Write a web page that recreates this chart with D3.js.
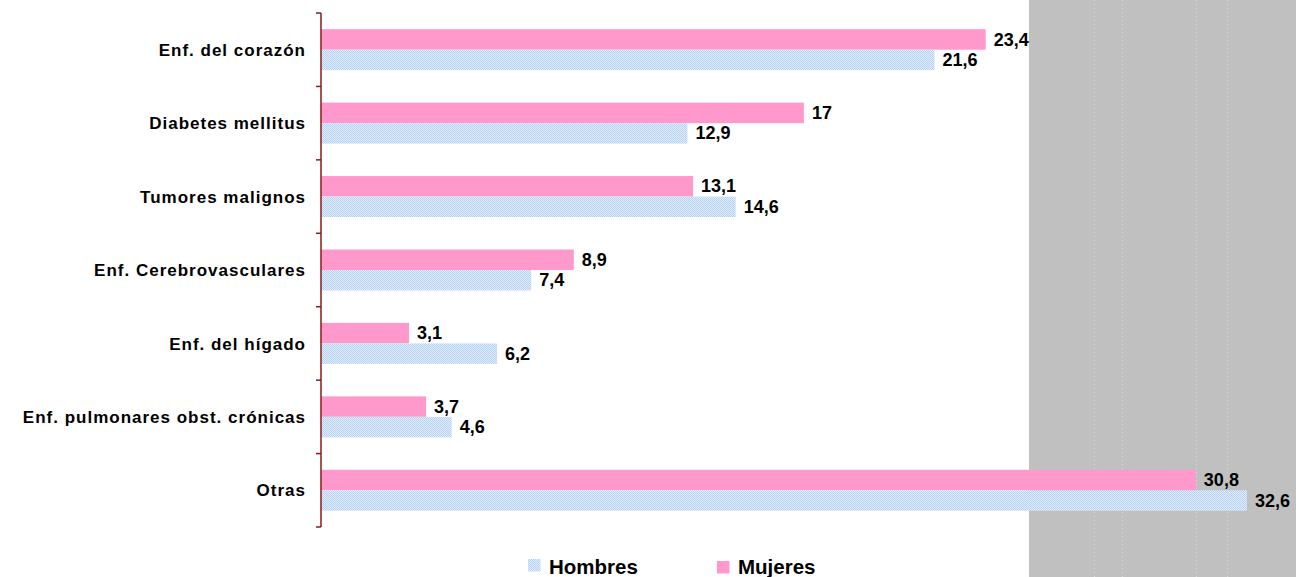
<!DOCTYPE html>
<html><head><meta charset="utf-8">
<script src="https://cdn.jsdelivr.net/npm/d3@7"></script>
<style>body{margin:0;background:#fff}svg{display:block}text{font-family:"Liberation Sans",Arial,sans-serif;font-weight:bold}</style>
</head><body>
<script>
const categories = ["Enf. del corazón","Diabetes mellitus","Tumores malignos","Enf. Cerebrovasculares","Enf. del hígado","Enf. pulmonares obst. crónicas","Otras"];
const mujeres = [23.4,17,13.1,8.9,3.1,3.7,30.8];
const hombres = [21.6,12.9,14.6,7.4,6.2,4.6,32.6];
const mujeresLabels = ["23,4","17","13,1","8,9","3,1","3,7","30,8"];
const hombresLabels = ["21,6","12,9","14,6","7,4","6,2","4,6","32,6"];
const seriesNames = ["Hombres","Mujeres"];
const gridValues = [27.2,28.2,30.8,31.9];

const W=1296,H=577;
const svg=d3.select("body").append("svg").attr("width",W).attr("height",H);
const defs=svg.append("defs");
const pat=defs.append("pattern").attr("id","chk").attr("width",2).attr("height",2).attr("patternUnits","userSpaceOnUse");
pat.append("rect").attr("width",2).attr("height",2).attr("fill","#E2EDFB");
pat.append("rect").attr("width",1).attr("height",1).attr("fill","#B5D2F6");
pat.append("rect").attr("x",1).attr("y",1).attr("width",1).attr("height",1).attr("fill","#B5D2F6");

const x0=321;
const x=d3.scaleLinear().domain([0,32.6]).range([x0,1247]);
const y=d3.scaleBand().domain(categories).range([13,527]);

// gray area
svg.append("rect").attr("x",1029).attr("y",0).attr("width",W-1029).attr("height",H).attr("fill","#C0C0C0");
svg.selectAll("line.grid").data(gridValues).enter().append("line")
  .attr("x1",d=>Math.round(x(d))+0.5).attr("x2",d=>Math.round(x(d))+0.5).attr("y1",0).attr("y2",H)
  .attr("stroke","#D8D8D8").attr("stroke-width",1).attr("stroke-dasharray","1,3");

const g=svg.append("g");
const barH=20.5, off=16.2;
categories.forEach((c,i)=>{
  const yb=y(c);
  g.append("rect").attr("x",x0).attr("y",yb+off).attr("width",x(mujeres[i])-x0).attr("height",barH).attr("fill","#FF99CC");
  g.append("rect").attr("x",x0).attr("y",yb+off+barH).attr("width",x(hombres[i])-x0).attr("height",barH).attr("fill","url(#chk)");
  g.append("text").attr("x",x(mujeres[i])+8).attr("y",yb+off+barH/2).attr("dy","0.34em").attr("font-size",18).attr("fill","#000").text(mujeresLabels[i]);
  g.append("text").attr("x",x(hombres[i])+8).attr("y",yb+off+barH*1.5).attr("dy","0.34em").attr("font-size",18).attr("fill","#000").text(hombresLabels[i]);
});

// axis
const ax=svg.append("g").attr("transform",`translate(${x0},0)`);
ax.append("line").attr("x1",0).attr("x2",0).attr("y1",13).attr("y2",527).attr("stroke","#8B1A1A").attr("stroke-width",1.5);
const tickYs=categories.map(c=>y(c)).concat([y.range()[1]]);
ax.selectAll("line.t").data(tickYs).enter().append("line").attr("x1",-5).attr("x2",0).attr("y1",d=>d).attr("y2",d=>d).attr("stroke","#8B1A1A").attr("stroke-width",1.5);
svg.selectAll("text.cat").data(categories).enter().append("text")
  .attr("x",306).attr("y",d=>y(d)+y.bandwidth()/2).attr("dy","0.36em").attr("text-anchor","end")
  .attr("font-size",17).attr("letter-spacing","1px").attr("fill","#000").text(d=>d);

// legend
const leg=[{n:seriesNames[0],f:"url(#chk)",x:528,y:559},{n:seriesNames[1],f:"#FF99CC",x:717,y:561}];
leg.forEach(l=>{
  svg.append("rect").attr("x",l.x).attr("y",l.y).attr("width",12.5).attr("height",12.5).attr("fill",l.f);
  svg.append("text").attr("x",l.x+21).attr("y",574).attr("font-size",20.5).attr("fill","#000").text(l.n);
});
</script>
</body></html>
